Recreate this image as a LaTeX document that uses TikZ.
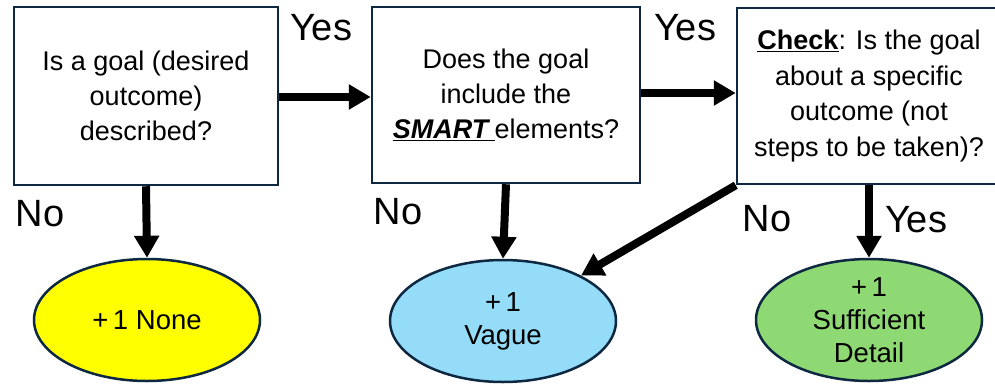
\documentclass[tikz,border=0pt]{standalone}
\usepackage{fontspec}
\setmainfont{Liberation Sans}
\usetikzlibrary{arrows.meta,shapes.geometric}

\definecolor{myframe}{RGB}{14,40,65}
\definecolor{myyellow}{RGB}{255,255,0}
\definecolor{myblue}{RGB}{148,220,248}
\definecolor{mygreen}{RGB}{142,217,115}

\begin{document}
\begin{tikzpicture}[x=1pt,y=-1pt,
    qbox/.style={draw=myframe,line width=2.5pt,fill=white,align=center,
                 inner sep=0pt,font=\fontsize{27}{35}\selectfont},
    result/.style={ellipse,draw=myframe,line width=2.5pt,align=center,
                 inner sep=0pt,minimum width=226pt,minimum height=122pt,
                 font=\fontsize{27.5}{33}\selectfont},
    flow/.style={line width=8pt,-{Triangle[length=22pt,width=24pt]}},
    lbl/.style={font=\fontsize{38}{38}\selectfont}]
 \useasboundingbox (0,0) rectangle (995,386);
 \begin{scope}
 \clip (0,0) rectangle (995,386);
 % questions
 \node[qbox,minimum width=264pt,minimum height=178pt] (q1) at (146,96)
   {Is a goal (desired\\outcome)\\described?};
 \node[qbox,minimum width=268pt,minimum height=176pt] (q2) at (506,95)
   {Does the goal\\include the\\\underline{\textbf{\textit{SMART}}\,}elements?};
 \node[qbox,minimum width=264pt,minimum height=176pt,
       font=\fontsize{27}{35.5}\selectfont] (q3) at (869,96)
   {\underline{\textbf{Check}}: Is the goal\\about a specific\\outcome (not\\steps to be taken)?};
 \end{scope}
 % results
 \node[result,fill=myyellow] (r1) at (147,320) {+\,1 None};
 \node[result,fill=myblue]   (r2) at (503,321) {+\,1\\Vague};
 \node[result,fill=mygreen]  (r3) at (869,320) {+\,1\\Sufficient\\Detail};
 % arrows
 \draw[flow] (q1.east |- 0,97) -- (q2.west |- 0,97);
 \draw[flow] (q2.east |- 0,93) -- (q3.west |- 0,93);
 \draw[flow] (q1.south) -- (r1.north);
 \draw[flow] (q2.south) -- (r2.north);
 \draw[flow] (q3.south west) -- (r2);
 \draw[flow] (q3.south) -- (r3.north);
 % labels
 \node[lbl] (yes1) at (321,28) {Yes};
 \node[lbl] (yes2) at (685,28) {Yes};
 \node[lbl] (no1)  at (40,214) {No};
 \node[lbl] (no2)  at (398,212) {No};
 \node[lbl] (no3)  at (767,219) {No};
 \node[lbl] (yes3) at (916,220) {Yes};
\end{tikzpicture}
\end{document}
